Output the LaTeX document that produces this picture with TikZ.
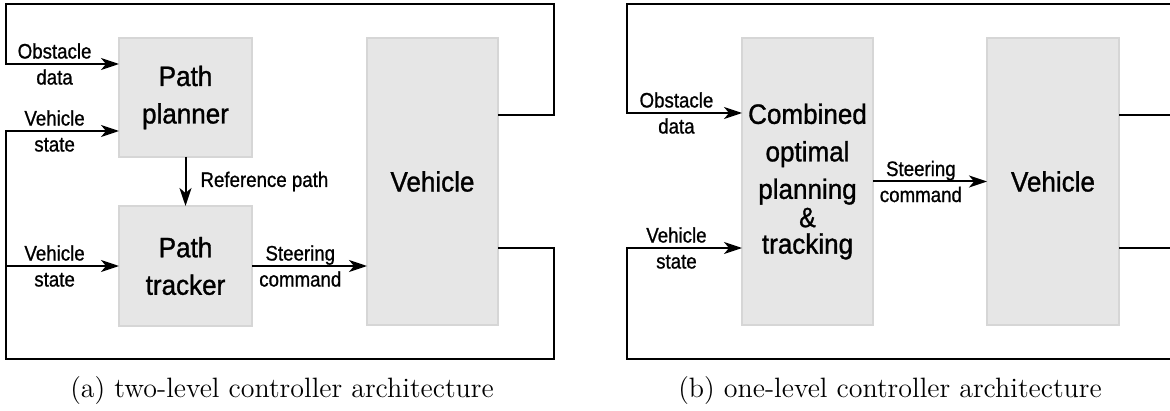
\documentclass[tikz,border=0pt]{standalone}
\usepackage{fontspec}
\newfontfamily\lblfont[FakeStretch=0.89,FakeBold=0.9]{Liberation Sans}
\newfontfamily\boxfont[FakeStretch=0.93,FakeBold=1.1]{Liberation Sans}
\usetikzlibrary{arrows.meta,calc}
\definecolor{boxfill}{HTML}{E6E6E6}
\definecolor{boxline}{HTML}{D6D6D6}
\newcommand{\ampsign}{{\lblfont\fontsize{14}{14}\selectfont\symbol{38}}}
\begin{document}
\begin{tikzpicture}[x=0.5pt,y=-0.5pt,
  blk/.style={draw=boxline, fill=boxfill, line width=0.8pt, inner sep=0pt, outer sep=0pt,
    align=center, font=\boxfont\fontsize{14}{18.75}\selectfont},
  wire/.style={line width=1pt, draw=black},
  arr/.style={wire, -{Stealth[length=9pt,width=6pt,inset=2.5pt]}},
  lbl/.style={font=\lblfont\fontsize{10.5}{13}\selectfont, align=center, inner sep=0pt},
  capt/.style={font=\fontsize{14}{17}\selectfont, anchor=base, inner sep=0pt}]

\clip (0,0) rectangle (1170,411);

% ---------- (a) two-level controller ----------
\node[blk, minimum width=66.5pt, minimum height=59.5pt] (planner) at (185.5,97.5) {Path\\planner};
\node[blk, minimum width=66.5pt, minimum height=60pt] (tracker) at (185.5,266) {Path\\tracker};
\node[blk, minimum width=65.5pt, minimum height=143.5pt] (veh1) at (432.5,181.5) {Vehicle};

\coordinate (L1) at (6,4);
\coordinate (R1) at (554,115);
\coordinate (R2) at (554,248);
\coordinate (B1) at (6,359);
\coordinate (pin1) at ($(planner.north west)+(0,26)$);
\coordinate (pin2) at ($(planner.south west)+(0,-26)$);

\draw[arr] (veh1.east |- R1) -- (R1) |- (L1) -- (L1 |- pin1) -- (pin1)
  node[lbl, pos=.43] {Obstacle\\data};
\draw[arr] (veh1.east |- R2) -- (R2) |- (B1) -- (B1 |- pin2) -- (pin2)
  node[lbl, pos=.43] {Vehicle\\state};
\draw[arr] (B1 |- tracker.west) -- (tracker.west)
  node[lbl, pos=.43] {Vehicle\\state};
\draw[arr] (planner.south) -- (tracker.north)
  node[lbl, midway, right=7pt] {Reference path};
\draw[arr] (tracker.east) -- (veh1.west |- tracker.east)
  node[lbl, pos=.42] {Steering\\command};

\node[capt] (capa) at (282,397) {(a) two-level controller architecture};

% ---------- (b) one-level controller ----------
\node[blk, minimum width=65.5pt, minimum height=143.5pt] (comb) at (807.5,181.5)
  {Combined\\optimal\\planning\\[-4.6pt]\ampsign\\[-5.5pt]tracking};
\node[blk, minimum width=66pt, minimum height=143.5pt] (veh2) at (1053,181.5) {Vehicle};

\coordinate (L2) at (627,4);
\coordinate (R3) at (1190,115);
\coordinate (R4) at (1190,248);
\coordinate (B2) at (627,359);
\coordinate (pin3) at ($(comb.north west)+(0,75)$);
\coordinate (pin4) at ($(comb.north west)+(0,210)$);

\draw[arr] (veh2.east |- R3) -- (R3) |- (L2) -- (L2 |- pin3) -- (pin3)
  node[lbl, pos=.43] {Obstacle\\data};
\draw[arr] (veh2.east |- R4) -- (R4) |- (B2) -- (B2 |- pin4) -- (pin4)
  node[lbl, pos=.43] {Vehicle\\state};
\draw[arr] (comb.east) -- (veh2.west)
  node[lbl, pos=.42] {Steering\\command};

\node[capt] (capb) at (890,397) {(b) one-level controller architecture};
\end{tikzpicture}
\end{document}
